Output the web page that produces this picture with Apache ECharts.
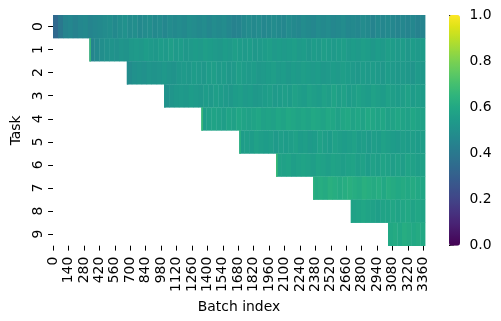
<!DOCTYPE html>
<html>
<head>
<meta charset="utf-8">
<script src="https://cdn.jsdelivr.net/npm/echarts@6/dist/echarts.min.js"></script>
<style>html,body{margin:0;padding:0;background:#fff}#c{width:501px;height:321px}</style>
</head>
<body>
<div id="c"></div>
<script>
// ---- data ----
const numBatches = 3375;
const taskLabels = ['0','1','2','3','4','5','6','7','8','9'];
const taskStart = [0, 330, 670, 1008, 1346, 1690, 2024, 2360, 2702, 3040];
// value of the first few batches of each task (bright stripe at task start)
const startVals = [0.34, 0.68, 0.48, 0.52, 0.68, 0.64, 0.68, 0.64, 0.58, 0.60];
// block values read along each row (evenly spanning from task start to the last batch)
const row0 = [0.34,0.40,0.45,0.46,0.44,0.46,0.47,0.45,0.46,0.47,
 0.48,0.49,0.47,0.49,0.50,0.48,0.49,0.47,0.48,0.49,
 0.47,0.48,0.46,0.48,0.47,0.48,0.47,0.49,0.48,0.47,
 0.48,0.46,0.48,0.47,0.48,0.46,0.44,0.45,0.47,0.48,
 0.47,0.48,0.46,0.47,0.48,0.47,0.46,0.48,0.47,0.46,
 0.48,0.47,0.46,0.48,0.47,0.48,0.46,0.47,0.48,0.46,
 0.47,0.46,0.48,0.47,0.45,0.47,0.46,0.47,0.46,0.45,
 0.46,0.45,0.46,0.44,0.45];
const row1 = [0.45,0.47,0.49,0.50,0.51,0.50,0.52,0.51,0.53,0.54,
 0.53,0.55,0.54,0.53,0.55,0.54,0.56,0.54,0.55,0.53,
 0.54,0.55,0.54,0.56,0.55,0.54,0.53,0.55,0.54,0.56,
 0.55,0.54,0.55,0.53,0.54,0.55,0.56,0.54,0.55,0.54,
 0.55,0.56,0.54,0.55,0.53,0.55,0.54,0.56,0.55,0.54,
 0.55,0.56,0.54,0.55,0.54,0.56,0.55,0.53,0.55,0.54,
 0.56,0.55,0.54,0.55,0.53,0.55,0.54,0.55];
const row2 = [0.48,0.50,0.51,0.50,0.52,0.51,0.52,0.53,0.52,0.51,
 0.53,0.54,0.53,0.55,0.54,0.53,0.55,0.56,0.54,0.55,
 0.53,0.54,0.56,0.55,0.54,0.55,0.53,0.54,0.55,0.56,
 0.54,0.55,0.53,0.55,0.54,0.56,0.55,0.54,0.55,0.53,
 0.54,0.55,0.54,0.56,0.55,0.54,0.53,0.55,0.54,0.55,
 0.54,0.53,0.55,0.54,0.53,0.54,0.53,0.52,0.54,0.53];
const row3 = [0.50,0.52,0.53,0.54,0.53,0.55,0.54,0.53,0.55,0.54,
 0.56,0.55,0.54,0.53,0.55,0.56,0.54,0.55,0.53,0.54,
 0.55,0.56,0.54,0.55,0.56,0.55,0.57,0.56,0.55,0.57,
 0.56,0.55,0.57,0.56,0.58,0.56,0.57,0.55,0.56,0.57,
 0.56,0.55,0.57,0.56,0.55,0.57,0.56,0.55,0.56,0.57,
 0.55,0.56,0.55];
const row4 = [0.56,0.57,0.58,0.57,0.56,0.58,0.57,0.59,0.58,0.57,
 0.58,0.59,0.57,0.58,0.57,0.59,0.58,0.60,0.59,0.58,
 0.59,0.58,0.60,0.59,0.58,0.60,0.59,0.57,0.59,0.60,
 0.58,0.59,0.58,0.60,0.59,0.58,0.59,0.57,0.58,0.59,
 0.58,0.57,0.59,0.58,0.57];
const row5 = [0.55,0.56,0.55,0.57,0.56,0.55,0.56,0.54,0.56,0.55,
 0.56,0.57,0.55,0.56,0.54,0.55,0.57,0.56,0.55,0.57,
 0.56,0.55,0.56,0.57,0.55,0.56,0.54,0.56,0.55,0.57,
 0.56,0.55,0.54,0.56,0.55,0.56,0.55,0.56];
const row6 = [0.58,0.57,0.58,0.56,0.57,0.58,0.57,0.56,0.58,0.57,
 0.56,0.58,0.57,0.56,0.57,0.58,0.56,0.57,0.55,0.57,
 0.56,0.58,0.57,0.56,0.57,0.56,0.58,0.57,0.56,0.57];
const row7 = [0.61,0.62,0.61,0.63,0.62,0.61,0.62,0.63,0.62,0.61,
 0.63,0.62,0.61,0.62,0.60,0.62,0.61,0.60,0.61,0.60,
 0.61,0.60,0.59];
const row8 = [0.57,0.58,0.59,0.58,0.57,0.56,0.58,0.58,0.59,0.58,
 0.59,0.60,0.58,0.59,0.58];
const row9 = [0.60,0.61,0.60,0.62,0.61,0.60,0.61,0.60];
const colorbarTicks = [0, 0.2, 0.4, 0.6, 0.8, 1.0];

const viridis = ['#440154','#471365','#482475','#463480','#414487','#3b528b','#355f8d',
 '#2f6c8e','#2a788e','#25848e','#21918c','#1e9c89','#22a884','#2fb47c','#44bf70',
 '#5ec962','#7ad151','#9bd93c','#bddf26','#dfe318','#fde725'];

// ---- build cells ----
const rows = [row0,row1,row2,row3,row4,row5,row6,row7,row8,row9];
const batchCats = [];
for (let i = 0; i < numBatches; i++) batchCats.push(String(i));
const cells = [];
rows.forEach((vals, r) => {
  const s = taskStart[r];
  const bw = (numBatches - s) / vals.length;
  vals.forEach((v, i) => {
    cells.push([Math.round(s + i * bw), Math.round(s + (i + 1) * bw), r, v]);
  });
});
rows.forEach((vals, r) => {
  if (r > 0) cells.push([taskStart[r], taskStart[r] + 10, r, startVals[r]]);
});

const FONT = 'DejaVu Sans';
const FS = 13.9;
const chart = echarts.init(document.getElementById('c'), null, {renderer: 'canvas'});
chart.setOption({
  animation: false,
  backgroundColor: '#fff',
  textStyle: {fontFamily: FONT},
  grid: [
    {left: 53, top: 15, width: 372, height: 230.7},
    {left: 449, top: 15, width: 11, height: 230.7}
  ],
  xAxis: [{
    type: 'category', data: batchCats, gridIndex: 0,
    axisLine: {show: false},
    axisTick: {show: true, interval: 139, alignWithLabel: true, length: 4.9, lineStyle: {color: '#000', width: 1}},
    axisLabel: {interval: 139, rotate: 90, fontSize: FS, margin: 11, color: '#000', fontFamily: FONT},
    splitLine: {show: false},
    name: 'Batch index', nameLocation: 'middle', nameGap: 49,
    nameTextStyle: {fontSize: FS, color: '#000', fontFamily: FONT}
  }, {
    type: 'value', gridIndex: 1, show: false, min: 0, max: 1
  }],
  yAxis: [{
    type: 'category', data: taskLabels, inverse: true, gridIndex: 0,
    axisLine: {show: false},
    axisTick: {show: true, alignWithLabel: true, length: 4.9, lineStyle: {color: '#000', width: 1}},
    axisLabel: {rotate: 90, fontSize: FS, margin: 8, color: '#000', fontFamily: FONT},
    splitLine: {show: false},
    name: 'Task', nameLocation: 'middle', nameGap: 28, nameRotate: 90,
    nameTextStyle: {fontSize: FS, color: '#000', fontFamily: FONT}
  }, {
    type: 'value', gridIndex: 1, position: 'right', min: 0, max: 1, interval: 0.2,
    axisLine: {show: false},
    axisTick: {show: true, length: 4.9, lineStyle: {color: '#000', width: 1}},
    axisLabel: {fontSize: FS, margin: 9.5, color: '#000', fontFamily: FONT,
      formatter: v => v.toFixed(1)},
    splitLine: {show: false}
  }],
  visualMap: {
    type: 'continuous', min: 0, max: 1, dimension: 3, seriesIndex: 0,
    inRange: {color: viridis},
    calculable: false, hoverLink: false,
    left: 449, top: 15, itemWidth: 11, itemHeight: 230.7, padding: 0,
    text: null, showLabel: false
  },
  series: [{
    type: 'custom',
    xAxisIndex: 0, yAxisIndex: 0,
    encode: {x: 0, y: 2},
    data: cells,
    renderItem: function (params, api) {
      const w = api.size([1, 0])[0];
      const h = api.size([0, 1])[1];
      const c0 = api.coord([0, api.value(2)]);
      const x0 = c0[0] - w / 2;
      const x = x0 + api.value(0) * w;
      const x2 = x0 + api.value(1) * w;
      return {
        type: 'rect',
        shape: {x: x, y: c0[1] - h / 2, width: x2 - x + 0.4, height: h + 0.3},
        style: {fill: api.visual('color')}
      };
    }
  }]
});
</script>
</body>
</html>
